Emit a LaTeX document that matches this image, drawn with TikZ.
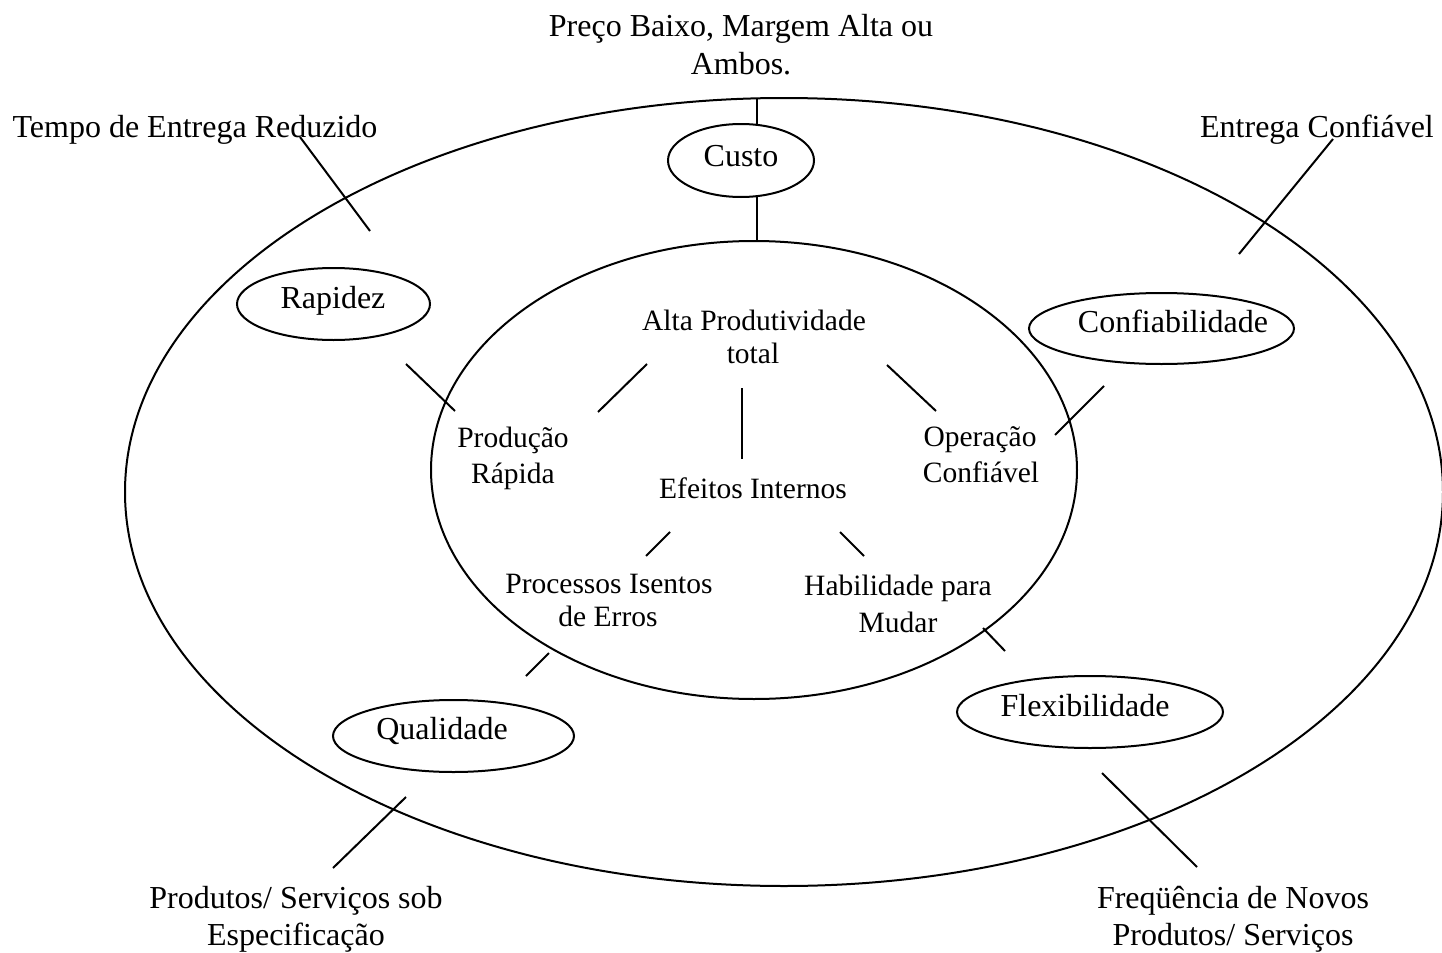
\documentclass[tikz,border=0pt]{standalone}
\usepackage{fontspec}
\setmainfont{Liberation Serif}
\usetikzlibrary{shapes.geometric}
\begin{document}
\begin{tikzpicture}[x=0.5pt,y=-0.5pt,
  every node/.style={inner sep=0pt, outer sep=0pt},
  bigtext/.style={font=\fontsize{16}{19}\selectfont, anchor=base},
  smalltext/.style={font=\fontsize{14.75}{17}\selectfont, anchor=base},
  ring/.style={draw, line width=1pt},
  pill/.style={draw, ellipse, line width=1pt},
  stub/.style={line width=1pt}]
\useasboundingbox (0,0) rectangle (1442,953);

% the two rings
\draw[ring] (784,492) ellipse [x radius=329.5pt, y radius=197pt];
\draw[ring] (754,470) ellipse [x radius=161.5pt, y radius=114.5pt];

% performance objectives
\node[pill, minimum width=73pt,   minimum height=36.5pt] (eCusto) at (741,160.5) {};
\node[pill, minimum width=96.5pt, minimum height=36pt]   (eRap)   at (333.5,304) {};
\node[pill, minimum width=132.5pt,minimum height=35.5pt] (eConf)  at (1161.5,328.5) {};
\node[pill, minimum width=120.5pt,minimum height=36pt]   (eQual)  at (453.5,736) {};
\node[pill, minimum width=133pt,  minimum height=36pt]   (eFlex)  at (1090,712) {};

\node[bigtext] (tCusto) at (741,166) {Custo};
\node[bigtext] (tRap)   at (333,308) {Rapidez};
\node[bigtext] (tConf)  at (1173,332) {Confiabilidade};
\node[bigtext] (tQual)  at (442,739) {Qualidade};
\node[bigtext] (tFlex)  at (1085,716) {Flexibilidade};

% external effects
\node[bigtext] (ext1a) at (741,36)  {Preço Baixo, Margem Alta ou};
\node[bigtext] (ext1b) at (741,74)  {Ambos.};
\node[bigtext] (ext2)  at (195,137) {Tempo de Entrega Reduzido};
\node[bigtext] (ext3)  at (1317,137) {Entrega Confiável};
\node[bigtext] (ext4a) at (296,908) {Produtos/ Serviços sob};
\node[bigtext] (ext4b) at (296,945) {Especificação};
\node[bigtext] (ext5a) at (1233,908) {Freqüência de Novos};
\node[bigtext] (ext5b) at (1233,945) {Produtos/ Serviços};

% internal effects
\node[smalltext] (in1a) at (754,330) {Alta Produtividade};
\node[smalltext] (in1b) at (753,363) {total};
\node[smalltext] (in2a) at (513,447) {Produção};
\node[smalltext] (in2b) at (513,483) {Rápida};
\node[smalltext] (in0)  at (753,498) {Efeitos Internos};
\node[smalltext] (in3a) at (980,446) {Operação};
\node[smalltext] (in3b) at (981,482) {Confiável};
\node[smalltext] (in4a) at (609,593) {Processos Isentos};
\node[smalltext] (in4b) at (608,626) {de Erros};
\node[smalltext] (in5a) at (898,595) {Habilidade para};
\node[smalltext] (in5b) at (898,632) {Mudar};

% short connecting strokes
\coordinate (a1) at (757,98);   \coordinate (a2) at (757,124);
\coordinate (b1) at (757,197);  \coordinate (b2) at (757,241);
\coordinate (c1) at (300,137);  \coordinate (c2) at (370,231);
\coordinate (d1) at (1333,139); \coordinate (d2) at (1239,254);
\coordinate (e1) at (406,364);  \coordinate (e2) at (455,411);
\coordinate (f1) at (647,364);  \coordinate (f2) at (598,412);
\coordinate (g1) at (742,388);  \coordinate (g2) at (742,459);
\coordinate (h1) at (887,365);  \coordinate (h2) at (936,411);
\coordinate (i1) at (1104,386); \coordinate (i2) at (1055,435);
\coordinate (j1) at (670,532);  \coordinate (j2) at (646,556);
\coordinate (k1) at (840,532);  \coordinate (k2) at (864,556);
\coordinate (l1) at (549,653);  \coordinate (l2) at (526,676);
\coordinate (m1) at (983,628);  \coordinate (m2) at (1005,651);
\coordinate (n1) at (406,797);  \coordinate (n2) at (333,868);
\coordinate (o1) at (1102,773); \coordinate (o2) at (1197,867);
\foreach \s in {a,b,c,d,e,f,g,h,i,j,k,l,m,n,o}
  \draw[stub] (\s1) -- (\s2);
\end{tikzpicture}
\end{document}
